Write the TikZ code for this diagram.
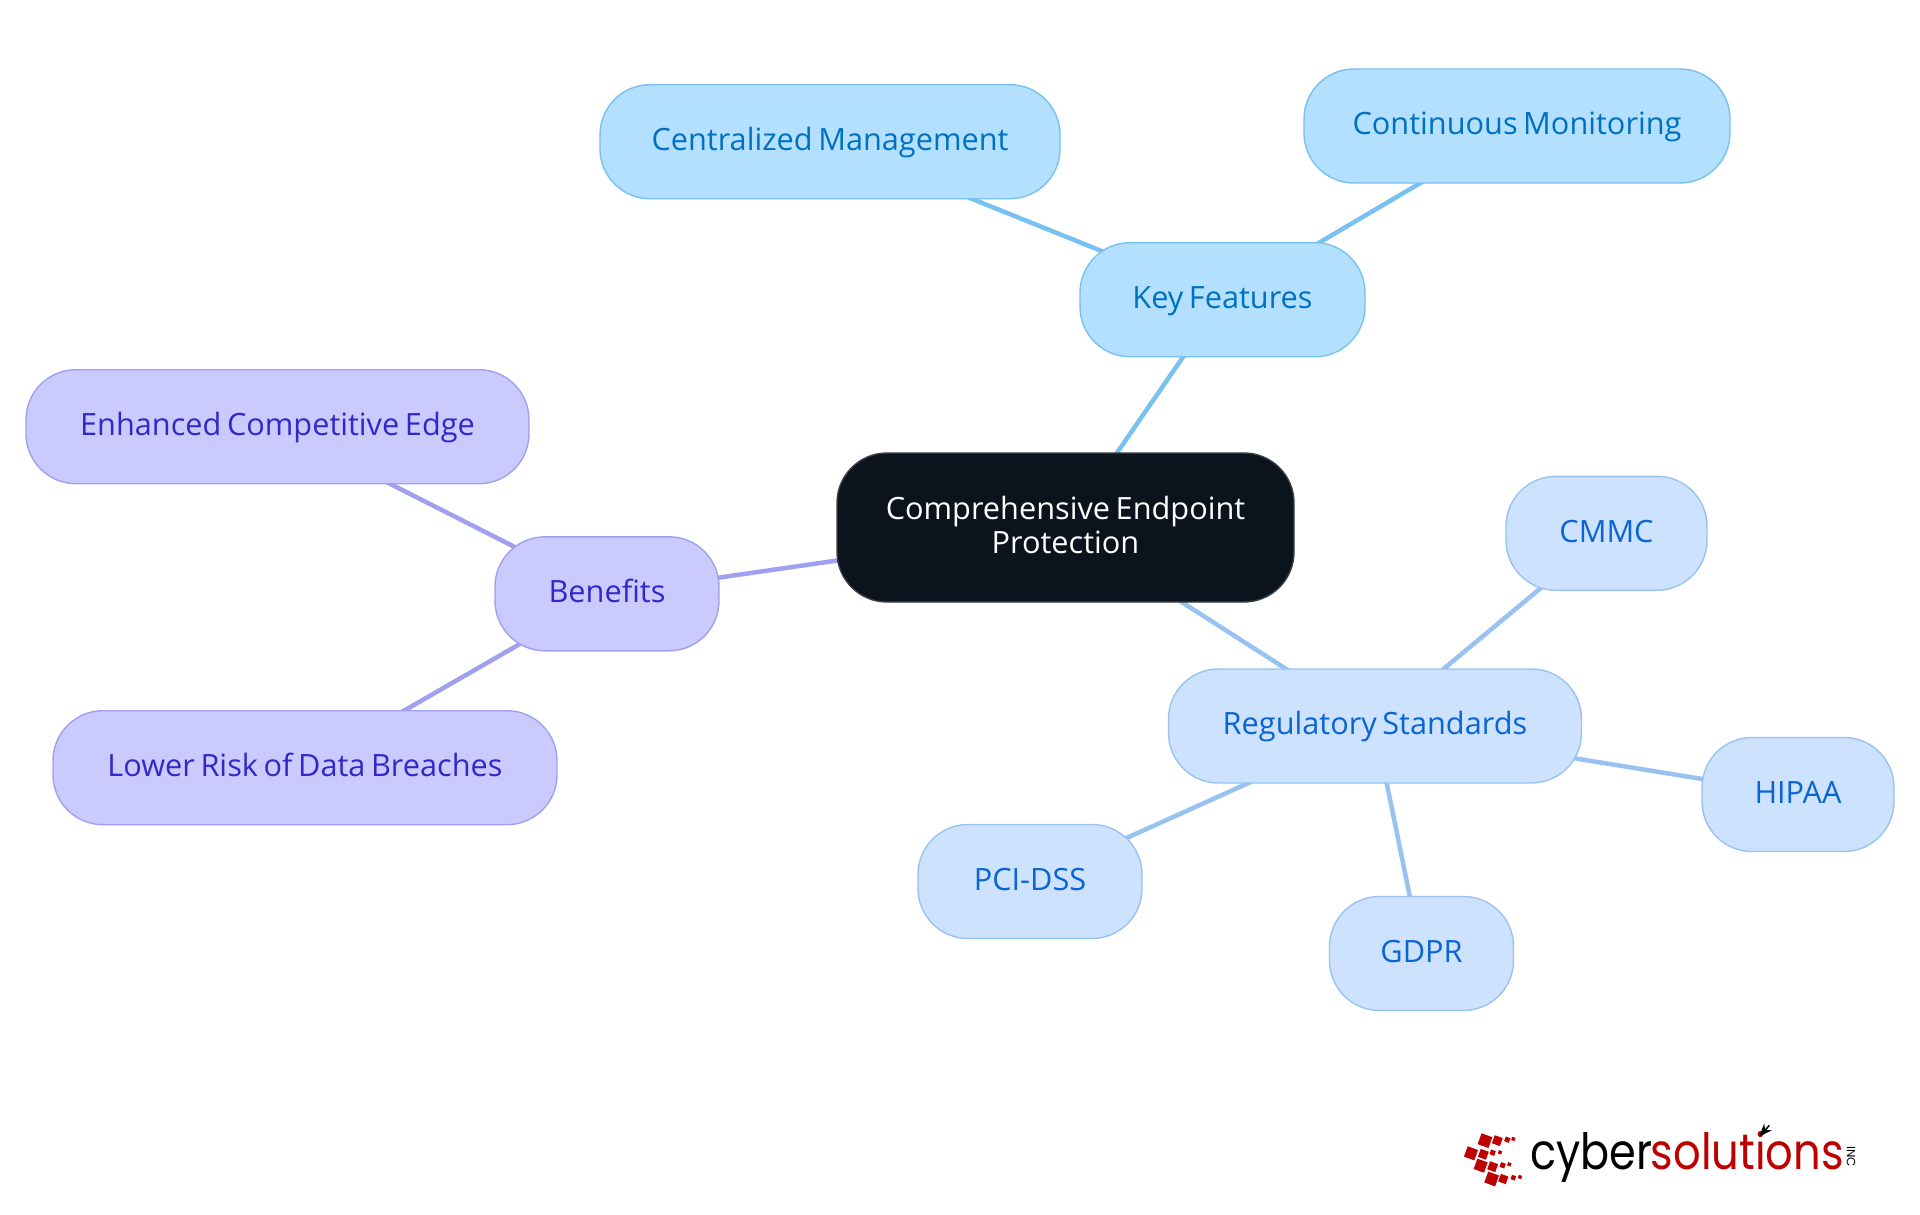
\documentclass[tikz,border=0pt]{standalone}
\usepackage{fontspec}
\setmainfont[WordSpace=0.7]{Open Sans}
\newfontfamily\logofont{Poppins}
\usetikzlibrary{backgrounds,arrows.meta}
\definecolor{rootfill}{HTML}{0B131C}
\definecolor{rootline}{HTML}{3A3F46}
\definecolor{kffill}{HTML}{B3E0FF}
\definecolor{kfline}{HTML}{78C1F0}
\definecolor{kftext}{HTML}{0070C0}
\definecolor{befill}{HTML}{CACAFF}
\definecolor{beline}{HTML}{A0A0F0}
\definecolor{betext}{HTML}{3228C8}
\definecolor{rsfill}{HTML}{CCE2FF}
\definecolor{rsline}{HTML}{98C2F0}
\definecolor{rstext}{HTML}{0A64D2}
\definecolor{logored}{HTML}{BE0000}
\tikzset{
  x=1pt,y=-1pt,
  box/.style={rectangle,rounded corners=50pt,line width=1.4pt,minimum height=114pt,inner sep=0pt,font=\fontsize{30.7}{34.5}\selectfont,align=center,text height=25pt,text depth=7.6pt},
  rootbox/.style={box,fill=rootfill,draw=rootline,text=white,minimum width=457pt,minimum height=149pt,text height=60pt,text depth=7.6pt},
  kfbox/.style={box,fill=kffill,draw=kfline,text=kftext},
  bebox/.style={box,fill=befill,draw=beline,text=betext},
  rsbox/.style={box,fill=rsfill,draw=rsline,text=rstext},
  kfedge/.style={draw=kfline,line width=4.5pt},
  beedge/.style={draw=beline,line width=4.5pt},
  rsedge/.style={draw=rsline,line width=4.5pt},
  chip/.style={fill=logored,rotate=-20,inner sep=0pt,minimum size=#1},
}
\begin{document}
\begin{tikzpicture}
\useasboundingbox (0,0) rectangle (1920,1215);
\node[rootbox] (root) at (1065.5,527.5) {Comprehensive Endpoint\\Protection};
\node[kfbox,minimum width=285pt] (kf) at (1222.5,299.7) {Key Features};
\node[kfbox,minimum width=460pt] (cm) at (830,141.7) {Centralized Management};
\node[kfbox,minimum width=426pt] (cont) at (1517,126) {Continuous Monitoring};
\node[bebox,minimum width=224pt] (ben) at (607,593.8) {Benefits};
\node[bebox,minimum width=503pt] (edge) at (277.5,426.7) {Enhanced Competitive Edge};
\node[bebox,minimum width=504pt] (risk) at (305,767.7) {Lower Risk of Data Breaches};
\node[rsbox,minimum width=413pt] (reg) at (1375,726) {Regulatory Standards};
\node[rsbox,minimum width=201pt] (cmmc) at (1606.5,533.3) {CMMC};
\node[rsbox,minimum width=192pt] (hipaa) at (1798,794.5) {HIPAA};
\node[rsbox,minimum width=184pt] (gdpr) at (1421.5,953.5) {GDPR};
\node[rsbox,minimum width=224pt] (pci) at (1030,881.5) {PCI-DSS};
\begin{scope}[on background layer]
\draw[kfedge] (root.center) -- (kf.center);
\draw[kfedge] (kf.center) -- (cm.center);
\draw[kfedge] (kf.center) -- (cont.center);
\draw[beedge] (root.center) -- (ben.center);
\draw[beedge] (ben.center) -- (edge.center);
\draw[beedge] (ben.center) -- (risk.center);
\draw[rsedge] (root.center) -- (reg.center);
\draw[rsedge] (reg.center) -- (cmmc.center);
\draw[rsedge] (reg.center) -- (hipaa.center);
\draw[rsedge] (reg.center) -- (gdpr.center);
\draw[rsedge] (reg.center) -- (pci.center);
\end{scope}
% logo
\begin{scope}[shift={(1440,1100)},x=0.3333pt,y=-0.3333pt]
\foreach \px/\py/\s in {135/122/11.5,172/122/8.5,202/119/5,220/117/3.5,
  93/160/11,130/163/8.5,158/158/5,180/157/3.5,
  122/197/11,158/200/8.5,188/196/5,208/193/3.5,
  155/237/11.5,190/237/8,220/233/4.5,240/231/3.5}
  \node[chip=\s pt] at (\px,\py) {};
\node[anchor=base west,inner sep=0pt,font=\logofont\fontsize{50}{50}\selectfont,text=black,xscale=0.86] (cy) at (270,208) {cyber};
\node[anchor=base west,inner sep=0pt,font=\logofont\fontsize{50}{50}\selectfont,text=logored,xscale=0.865] (so) at (632,208) {solutions};
\node[rotate=-90,inner sep=0pt,font=\logofont\fontsize{12}{12}\selectfont,text=black] (inc) at (1233,170) {INC};
\draw[-{Stealth[length=13pt,width=10pt]},line width=1.5pt,black] (988,76) -- (958,110);
\end{scope}
\end{tikzpicture}
\end{document}
